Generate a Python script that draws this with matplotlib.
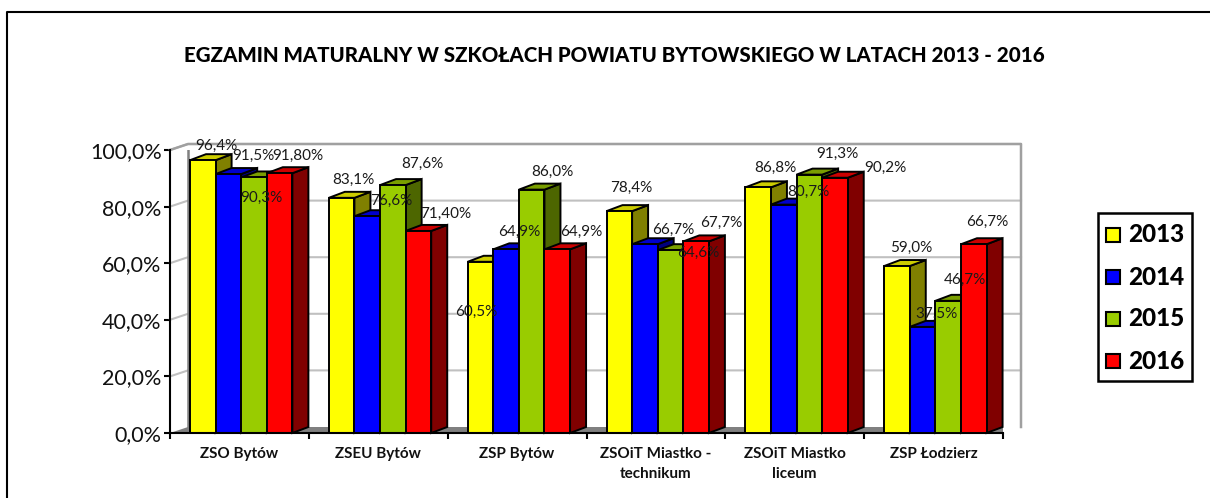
import matplotlib
matplotlib.use('Agg')
import matplotlib.pyplot as plt
from matplotlib.patches import Polygon, Rectangle

plt.rcParams['font.family'] = ['Lato', 'DejaVu Sans']

title = "EGZAMIN MATURALNY W SZKOŁACH POWIATU BYTOWSKIEGO W LATACH 2013 - 2016"
schools = ["ZSO Bytów", "ZSEU Bytów", "ZSP Bytów", "ZSOiT Miastko -\ntechnikum", "ZSOiT Miastko\nliceum", "ZSP Łodzierz"]
years = ["2013", "2014", "2015", "2016"]
values_2013 = [96.4, 83.1, 60.5, 78.4, 86.8, 59.0]
values_2014 = [91.5, 76.6, 64.9, 66.7, 80.7, 37.5]
values_2015 = [90.3, 87.6, 86.0, 64.6, 91.3, 46.7]
values_2016 = [91.8, 71.4, 64.9, 67.7, 90.2, 66.7]
labels_2013 = ["96,4%", "83,1%", "60,5%", "78,4%", "86,8%", "59,0%"]
labels_2014 = ["91,5%", "76,6%", "64,9%", "66,7%", "80,7%", "37,5%"]
labels_2015 = ["90,3%", "87,6%", "86,0%", "64,6%", "91,3%", "46,7%"]
labels_2016 = ["91,80%", "71,40%", "64,9%", "67,7%", "90,2%", "66,7%"]
y_ticks = [0, 20, 40, 60, 80, 100]
y_tick_labels = ["0,0%", "20,0%", "40,0%", "60,0%", "80,0%", "100,0%"]

series = [values_2013, values_2014, values_2015, values_2016]
series_labels = [labels_2013, labels_2014, labels_2015, labels_2016]
# front, top, side
colors = [('#FFFF00', '#CCCC00', '#808000'),
          ('#0000FF', '#0000CC', '#000080'),
          ('#99CC00', '#7A9E00', '#4D6600'),
          ('#FF0000', '#CC0000', '#800000')]

# label shift from the top centre of the bar front, in pixels
label_shift = [[(14, 14), (12, 18), (-4, -50), (12, 23), (17, 19), (14, 18)],
               [(25, 18), (24, 15), (13, 17), (28, 14), (25, 13), (14, 13)],
               [(7, -20), (30, 21), (21, 18), (28, -3), (28, 21), (17, 21)],
               [(18, 17), (27, 17), (24, 17), (25, 19), (50, 10), (13, 22)]]

W, H = 1210, 498
fig = plt.figure(figsize=(W / 100, H / 100), dpi=100)
fig.patch.set_facecolor('white')

# front plane of the 3d box: x 170..1003, y 433..150 px
ax = fig.add_axes([170 / W, 1 - 433 / H, 833 / W, 283 / H])
ax.set_xlim(0, 6)
ax.set_ylim(0, 100)
ax.patch.set_visible(False)
for s in ['top', 'right']:
    ax.spines[s].set_visible(False)
for s in ['left', 'bottom']:
    ax.spines[s].set_linewidth(1.5)
    ax.spines[s].set_zorder(20)

px_x = 6 / 833
px_y = 100 / 283
dx_wall, dy_wall = 18 * px_x, 6 * px_y
dx_bar, dy_bar = 16 * px_x, 6 * px_y
bar_w = 25.6 * px_x
first = 20 * px_x


def wall(x, y):
    return (x + dx_wall, y + dy_wall)


# floor and walls
ax.add_patch(Polygon([(0, 0), (6, 0), wall(6, 0), wall(0, 0)], fc='#808080', ec='none', zorder=1))
ax.add_patch(Polygon([wall(0, 0), wall(6, 0), wall(6, 100), wall(0, 100)], fc='white', ec='none', zorder=1))
for t in y_ticks[1:]:
    ax.plot([0, wall(0, t)[0], wall(6, t)[0]], [t, wall(0, t)[1], wall(6, t)[1]],
            color='#C0C0C0', lw=1.5, zorder=2, clip_on=False, solid_joinstyle='miter')
ax.plot([0, wall(0, 100)[0], wall(6, 100)[0], wall(6, 0)[0]],
        [100, wall(0, 100)[1], wall(6, 100)[1], wall(6, 0)[1]],
        color='#A0A0A0', lw=1.8, zorder=3, clip_on=False)
ax.plot([wall(0, 0)[0]] * 2, [wall(0, 0)[1], wall(0, 100)[1]], color='#808080', lw=1.8, zorder=3)

# bars, left to right so the side faces get covered by the next bar
z = 5
for g in range(len(schools)):
    for i in range(len(years)):
        v = series[i][g]
        x0 = g + first + i * bar_w
        x1 = x0 + bar_w
        front, top, side = colors[i]
        ax.add_patch(Polygon([(x1, 0), (x1 + dx_bar, dy_bar), (x1 + dx_bar, v + dy_bar), (x1, v)],
                             fc=side, ec='black', lw=1.4, zorder=z, clip_on=False))
        ax.add_patch(Polygon([(x0, v), (x1, v), (x1 + dx_bar, v + dy_bar), (x0 + dx_bar, v + dy_bar)],
                             fc=top, ec='black', lw=1.4, zorder=z, clip_on=False))
        ax.add_patch(Rectangle((x0, 0), bar_w, v, fc=front, ec='black', lw=1.4, zorder=z))
        z += 1

for g in range(len(schools)):
    for i in range(len(years)):
        sx, sy = label_shift[i][g]
        ax.annotate(series_labels[i][g], (g + first + (i + 0.5) * bar_w, series[i][g]),
                    xytext=(sx * 0.72, sy * 0.72), textcoords='offset points',
                    ha='center', va='center', fontsize=11, color='#1a1a1a', zorder=100)

ax.set_yticks(y_ticks)
ax.set_yticklabels(y_tick_labels, fontsize=15.5, color='#111111')
ax.set_xticks(range(7))
ax.set_xticklabels([])
ax.tick_params(axis='both', width=1.5, length=4, direction='out')
ax.tick_params(axis='y', pad=2)
for g, name in enumerate(schools):
    ax.text(g + 0.5, -5, name, ha='center', va='top', fontsize=11, fontweight='bold',
            color='#111111', linespacing=1.5)

fig.text(614 / W, 1 - 55 / H, title, ha='center', va='center', fontsize=14.8, fontweight='black', color='black')

# outer frame, bottom and right edges fall off the picture
fig.add_artist(plt.Line2D([7 / W, 7 / W, 1], [0, 1 - 12 / H, 1 - 12 / H],
                          color='black', lw=1.5, transform=fig.transFigure))

# legend
fig.add_artist(Rectangle((1098 / W, 1 - 381 / H), 94 / W, 168 / H, fc='white', ec='black', lw=1.8,
                         transform=fig.transFigure))
for i, year in enumerate(years):
    yc = 235 + i * 42
    fig.add_artist(Rectangle((1106 / W, 1 - (yc + 7) / H), 14 / W, 14 / H, fc=colors[i][0], ec='black',
                             lw=1.5, transform=fig.transFigure))
    fig.text(1128 / W, 1 - yc / H, year, ha='left', va='center', fontsize=17.5, fontweight='black', color='black')

fig.savefig('out.png', dpi=100)
